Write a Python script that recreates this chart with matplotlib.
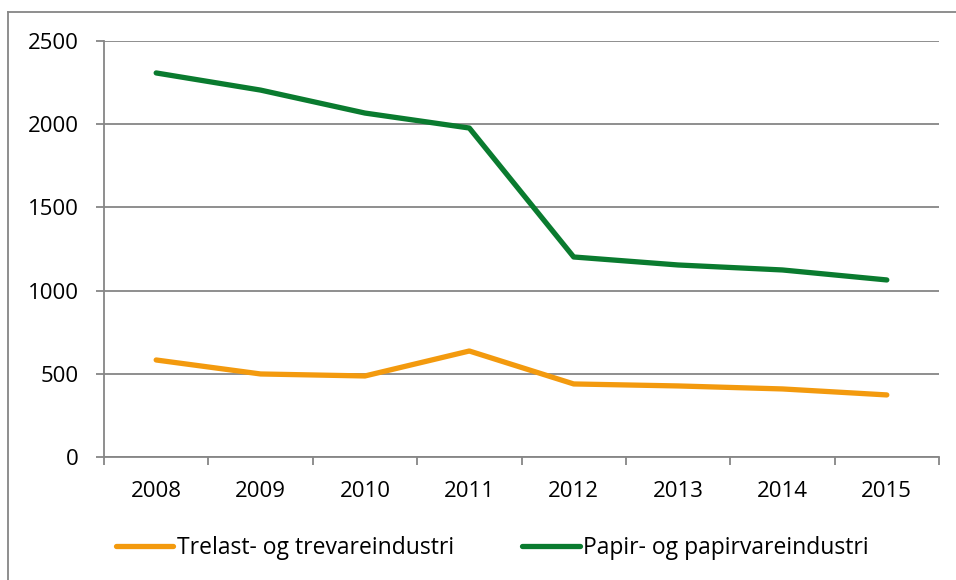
import matplotlib.pyplot as plt
from matplotlib.lines import Line2D

years = ['2008', '2009', '2010', '2011', '2012', '2013', '2014', '2015']
trelast = [583, 499, 487, 637, 439, 427, 409, 373]
papir = [2308, 2205, 2067, 1977, 1202, 1154, 1124, 1064]

plt.rcParams['font.family'] = ['Open Sans', 'DejaVu Sans']
fig = plt.figure(figsize=(9.56, 5.8), dpi=100)
ax = fig.add_axes([104 / 956, 1 - 457 / 580, 835 / 956, 416 / 580])

grey = '#868686'
x = range(len(years))
ax.plot(x, trelast, color='#F39A0E', lw=3.8, solid_capstyle='round', label='Trelast- og trevareindustri')
ax.plot(x, papir, color='#0A7B2F', lw=3.8, solid_capstyle='round', label='Papir- og papirvareindustri')

ax.set_xlim(-0.5, len(years) - 0.5)
ax.set_ylim(0, 2500)
ax.set_yticks(range(0, 2501, 500))
ax.yaxis.grid(True, color=grey, lw=1.3)
ax.set_axisbelow(True)

ax.set_xticks([i - 0.5 for i in range(len(years) + 1)])
ax.set_xticklabels([])
ax.set_xticks(list(x), minor=True)
ax.set_xticklabels(years, minor=True)
ax.tick_params(axis='x', which='minor', length=0, pad=17, labelsize=16)
ax.tick_params(axis='x', which='major', length=6, width=1.3, color=grey)
ax.tick_params(axis='y', length=6, width=1.3, color=grey, labelsize=16, pad=12)

for side in ['top', 'right']:
    ax.spines[side].set_visible(False)
for side in ['left', 'bottom']:
    ax.spines[side].set_color(grey)
    ax.spines[side].set_linewidth(1.3)

handles, labels = ax.get_legend_handles_labels()
fig.legend(handles, labels, loc='center', bbox_to_anchor=(0.515, 1 - 548 / 580), ncol=2,
           frameon=False, fontsize=16.5, handlelength=2.5, handletextpad=0.15,
           columnspacing=3.0)

# outer chart frame
fig.add_artist(Line2D([8 / 956, 8 / 956], [0, 1 - 12 / 580], color=grey, lw=1.3))
fig.add_artist(Line2D([8 / 956, 1], [1 - 12 / 580, 1 - 12 / 580], color=grey, lw=1.3))

fig.savefig('out.png', dpi=100)
